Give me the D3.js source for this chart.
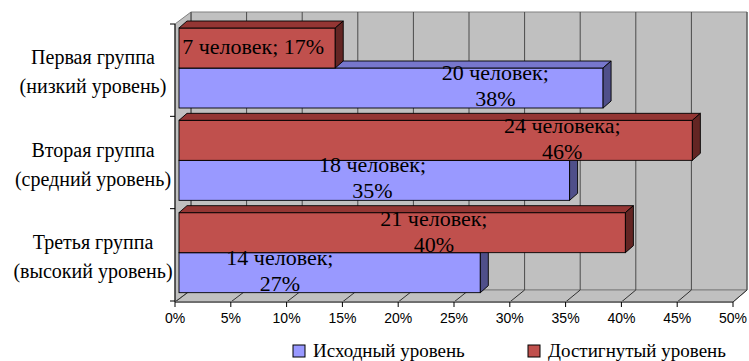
<!DOCTYPE html>
<html><head><meta charset="utf-8">
<script src="https://cdn.jsdelivr.net/npm/d3@7"></script>
<style>body{margin:0;background:#fff} svg{display:block}</style>
</head><body>
<svg width="749" height="361"></svg>
<script>
var groups = [["Первая группа","(низкий уровень)"],
              ["Вторая группа","(средний уровень)"],
              ["Третья группа","(высокий уровень)"]];
var seriesNames = ["Исходный уровень","Достигнутый уровень"];
var initial  = [38, 35, 27];   // %
var achieved = [14, 46, 40];   // first bar is drawn at ~14% although its label says 17%
var initialLabels  = [["20 человек;","38%"],["18 человек;","35%"],["14 человек;","27%"]];
var achievedLabels = [["7 человек; 17%"],["24 человека;","46%"],["21 человек;","40%"]];
// label anchors, in axis percent (excel put them oddly)
var initialLabelAt  = [28.7, 17.7, 9.4];
var achievedLabelAt = [7.0, 34.7, 23.2];
var tickValues = [0,5,10,15,20,25,30,35,40,45,50];

var svg = d3.select("svg");
var colors = {
  initial:  {front:"#9999ff", top:"#7777cc", side:"#4f4f8a"},
  achieved: {front:"#c0504d", top:"#943634", side:"#632523"}
};
var bo = {x:4, y:-3};    // bar front face offset from front plane
var bd = {x:8, y:-7};    // bar depth

// front plane and back wall scales
var x  = d3.scaleLinear().domain([0,50]).range([175,733]);
var xb = d3.scaleLinear().domain([0,50]).range([191,747]);
var y  = d3.scaleBand().domain(d3.range(groups.length)).range([24,301]);
var inner = d3.scaleBand().domain(["achieved","initial"]).range([4, 84]);

var x0 = x(0), x1 = x(50), yTop = 24, yBot = 302;
var bx0 = xb(0), bx1 = xb(50), byTop = 12, byBot = 290;
function pts(a){ return a.map(function(p){return p.join(",");}).join(" "); }

// walls
var walls = svg.append("g");
walls.append("polygon")
  .attr("points", pts([[bx0,byTop],[bx1,byTop],[bx1,byBot],[bx0,byBot]]))
  .attr("fill","#c0c0c0").attr("stroke","#808080");
walls.append("polygon")
  .attr("points", pts([[x0,yTop],[bx0,byTop],[bx0,byBot],[x0,yBot]]))
  .attr("fill","#c0c0c0").attr("stroke","#808080");
walls.append("polygon")
  .attr("points", pts([[x0,yBot],[bx0,byBot],[bx1,byBot],[x1,yBot]]))
  .attr("fill","#c0c0c0").attr("stroke","#808080");

// gridlines on back wall + floor
walls.selectAll(".grid").data(tickValues).enter().append("line")
  .attr("x1", function(d){return xb(d);}).attr("x2", function(d){return xb(d);})
  .attr("y1", byTop).attr("y2", byBot)
  .attr("stroke","#4a4a4a").attr("stroke-width",1);
walls.selectAll(".floor").data(tickValues).enter().append("line")
  .attr("x1", function(d){return x(d);}).attr("y1", yBot)
  .attr("x2", function(d){return xb(d);}).attr("y2", byBot)
  .attr("stroke","#303030");
walls.append("line").attr("x1",x0).attr("x2",x1).attr("y1",yBot).attr("y2",yBot)
  .attr("stroke","#707070").attr("stroke-width",2);
walls.selectAll(".xtick").data(tickValues).enter().append("line")
  .attr("x1", function(d){return x(d);}).attr("x2", function(d){return x(d);})
  .attr("y1", yBot).attr("y2", yBot+5).attr("stroke","#000");

// category axis
walls.append("line").attr("x1",x0).attr("x2",x0).attr("y1",yTop).attr("y2",yBot)
  .attr("stroke","#000");
walls.selectAll(".ytick").data(d3.range(groups.length+1)).enter().append("line")
  .attr("x1",x0-5).attr("x2",x0)
  .attr("y1", function(d){return y.range()[0] + d*y.step();})
  .attr("y2", function(d){return y.range()[0] + d*y.step();})
  .attr("stroke","#000");

// bars
function bar(g, v, yy, h, c) {
  var a = x(0) + bo.x, b = x(v) + bo.x;
  g.append("rect").attr("x",a).attr("y",yy).attr("width",b-a).attr("height",h)
    .attr("fill",c.front).attr("stroke","#000").attr("stroke-width",0.9);
  g.append("polygon")
    .attr("points", pts([[a,yy],[a+bd.x,yy+bd.y],[b+bd.x,yy+bd.y],[b,yy]]))
    .attr("fill",c.top).attr("stroke","#000").attr("stroke-width",0.9);
  g.append("polygon")
    .attr("points", pts([[b,yy],[b+bd.x,yy+bd.y],[b+bd.x,yy+h+bd.y],[b,yy+h]]))
    .attr("fill",c.side).attr("stroke","#000").attr("stroke-width",0.9);
}
var bars = svg.append("g");
groups.forEach(function(gr, i){
  bar(bars, initial[i], y(i)+inner("initial"), inner.bandwidth(), colors.initial);
  bar(bars, achieved[i], y(i)+inner("achieved"), inner.bandwidth(), colors.achieved);
});

// data labels
var lab = svg.append("g").attr("font-family","'Liberation Serif','Times New Roman',serif")
  .attr("font-size",22).attr("fill","#000").attr("text-anchor","middle");
function label(lines, at, cy) {
  var lh = 26;
  var t = lab.append("text").attr("x", x(at))
    .attr("y", cy - (lines.length-1)*lh/2 + 7);
  lines.forEach(function(s, k){
    t.append("tspan").attr("x", x(at)).attr("dy", k ? lh : 0).text(s);
  });
}
groups.forEach(function(gr, i){
  label(initialLabels[i], initialLabelAt[i], y(i)+inner("initial")+inner.bandwidth()/2 - 2);
  label(achievedLabels[i], achievedLabelAt[i], y(i)+inner("achieved")+inner.bandwidth()/2 - 1);
});

// category labels
var cat = svg.append("g").attr("font-family","'Liberation Serif','Times New Roman',serif")
  .attr("font-size",20).attr("fill","#000").attr("text-anchor","middle");
groups.forEach(function(gr, i){
  var c = y(i) + y.bandwidth()/2;
  cat.append("text").attr("x",93).attr("y",c-6).text(gr[0]);
  cat.append("text").attr("x",93).attr("y",c+23).text(gr[1]);
});

// x tick labels
svg.append("g").selectAll("text").data(tickValues).enter().append("text")
  .attr("x", function(d){return x(d);}).attr("y",323)
  .attr("text-anchor","middle")
  .attr("font-family","'Liberation Sans',Arial,sans-serif").attr("font-size",14)
  .text(function(d){return d+"%";});

// legend
var leg = svg.append("g").attr("font-family","'Liberation Serif','Times New Roman',serif")
  .attr("font-size",19);
var legX = [293, 528];
seriesNames.forEach(function(n, k){
  var c = k ? colors.achieved : colors.initial;
  leg.append("rect").attr("x",legX[k]).attr("y",345).attr("width",12).attr("height",12)
    .attr("fill",c.front).attr("stroke","#000");
  leg.append("text").attr("x",legX[k]+20).attr("y",357).text(n);
});
</script>
</body></html>
